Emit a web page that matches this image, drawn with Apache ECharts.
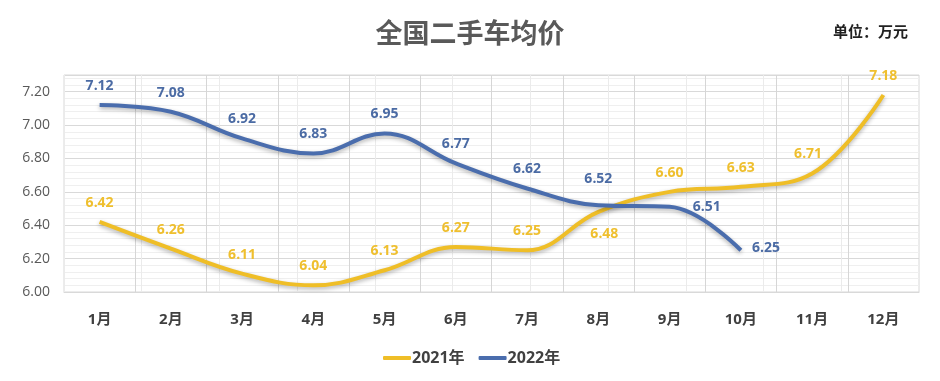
<!DOCTYPE html>
<html><head><meta charset="utf-8">
<script src="https://cdn.jsdelivr.net/npm/echarts@6/dist/echarts.min.js"></script>
<style>html,body{margin:0;padding:0;background:#fff}#c{width:940px;height:381px}</style>
</head><body><div id="c"></div>
<script>
const months = ['1月','2月','3月','4月','5月','6月','7月','8月','9月','10月','11月','12月'];
const y2021 = [6.42, 6.26, 6.11, 6.04, 6.13, 6.27, 6.25, 6.48, 6.60, 6.63, 6.71, 7.18];
const y2022 = [7.12, 7.08, 6.92, 6.83, 6.95, 6.77, 6.62, 6.52, 6.51, 6.25];
const seriesNames = ['2021年','2022年'];
const yTicks = {min: 6.0, max: 7.3, interval: 0.2};

const C21 = '#EFBE27', C22 = '#4A6DAD';
const LBL21 = '#EFBF2E', LBL22 = '#4B6BA4';
const cjk = '"Noto Sans CJK SC", sans-serif';
const num = '"Open Sans", "Noto Sans CJK SC", sans-serif';

function withOverrides(vals, overrides) {
  return vals.map((v, i) => {
    const o = {value: v};
    if (overrides[i]) o.label = overrides[i];
    return o;
  });
}
const d21 = withOverrides(y2021, {
  7: {position: 'bottom', distance: 15, offset: [6, 0]},
  10: {offset: [-4, 0]}
});
const d22 = withOverrides(y2022, {
  7: {distance: 19},
  8: {position: 'right', distance: 23},
  9: {position: 'right', distance: 11, offset: [0, -2]}
});

const chart = echarts.init(document.getElementById('c'));
chart.setOption({
  animation: false,
  backgroundColor: '#fff',
  title: [
    {text: '全国二手车均价', left: 'center', top: 14,
     textStyle: {fontFamily: cjk, fontSize: 27, fontWeight: 'bold', color: '#595959'}},
    {text: '单位：万元', left: 828, top: 19,
     textStyle: {fontFamily: cjk, fontSize: 15, fontWeight: 'bold', color: '#222'}}
  ],
  legend: {
    bottom: 10, left: 378, itemGap: 14,
    itemWidth: 28, itemHeight: 4, icon: 'roundRect',
    textStyle: {fontFamily: num, fontSize: 16, fontWeight: 'bold', color: '#404040', padding: [0,0,0,-4]},
    data: seriesNames
  },
  grid: {left: 64, right: 21, top: 75, bottom: 89, show: true, borderColor: '#d9d9d9', borderWidth: 1},
  xAxis: [
    {type: 'category', data: months, boundaryGap: true,
     axisLine: {lineStyle: {color: '#d9d9d9'}}, axisTick: {show: false},
     axisLabel: {margin: 20, fontFamily: num, fontSize: 15, fontWeight: 'bold', color: '#404040'},
     splitLine: {show: true, lineStyle: {color: '#d6d6d6'}}},
    {type: 'category', data: months, boundaryGap: false, position: 'bottom',
     axisLine: {show: false}, axisTick: {show: false}, axisLabel: {show: false},
     splitLine: {show: true, lineStyle: {color: '#ebebeb'}}}
  ],
  yAxis: {
    type: 'value', min: yTicks.min, max: yTicks.max, interval: yTicks.interval,
    axisLine: {show: false}, axisTick: {show: false},
    axisLabel: {margin: 14, fontFamily: num, fontSize: 14, color: '#595959', showMaxLabel: false,
      formatter: v => v.toFixed(2)},
    splitLine: {show: true, lineStyle: {color: '#d9d9d9'}},
    minorTick: {show: false, splitNumber: 5},
    minorSplitLine: {show: true, lineStyle: {color: '#efefef'}}
  },
  series: [
    {name: seriesNames[0], type: 'line', data: d21, smooth: 0.4, symbol: 'circle', symbolSize: 0.1, showSymbol: true, xAxisIndex: 0,
     color: C21,
     lineStyle: {width: 4, color: C21, shadowColor: 'rgba(0,0,0,0.3)', shadowBlur: 4, shadowOffsetY: 2},
     label: {show: true, position: 'top', distance: 12, color: LBL21, fontFamily: num, fontSize: 14, fontWeight: 'bold',
       formatter: p => p.value.toFixed(2)}},
    {name: seriesNames[1], type: 'line', data: d22, smooth: 0.4, symbol: 'circle', symbolSize: 0.1, showSymbol: true, xAxisIndex: 0,
     color: C22,
     lineStyle: {width: 4, color: C22, shadowColor: 'rgba(0,0,0,0.3)', shadowBlur: 4, shadowOffsetY: 2},
     label: {show: true, position: 'top', distance: 12, color: LBL22, fontFamily: num, fontSize: 14, fontWeight: 'bold',
       formatter: p => p.value.toFixed(2)}}
  ]
});
</script></body></html>
